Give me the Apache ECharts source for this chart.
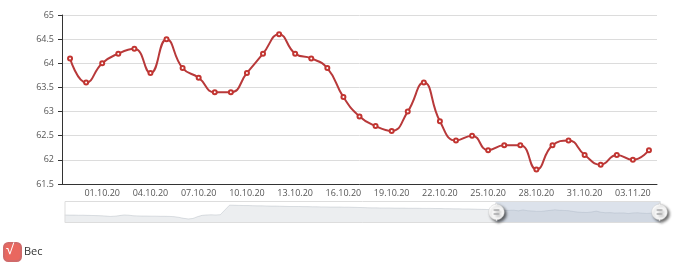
<!DOCTYPE html>
<html><head><meta charset="utf-8">
<style>html,body{margin:0;padding:0;background:#fff}#c{width:680px;height:265px}</style>
<script src="https://cdn.jsdelivr.net/npm/echarts@6/dist/echarts.min.js"></script>
</head><body><div id="c"></div>
<script>
// Daily categories: 27.06.20 .. 04.11.20 (131 days)
const firstDay = new Date(2020, 5, 27);
const dayCount = 131;
const categories = [];
for (let i = 0; i < dayCount; i++) {
  const d = new Date(firstDay.getFullYear(), firstDay.getMonth(), firstDay.getDate() + i);
  const dd = String(d.getDate()).padStart(2, '0');
  const mm = String(d.getMonth() + 1).padStart(2, '0');
  const yy = String(d.getFullYear()).slice(2);
  categories.push(dd + '.' + mm + '.' + yy);
}

// Values outside the zoom window (read from the slider's data shadow)
const earlyWeights = [
  60.8, 60.7, 60.7, 60.6, 60.6, 60.5, 60.4, 60.3, 60.2, 60.0,
  59.7, 59.9, 60.3, 60.8, 60.6, 60.2, 60.1, 60.0, 60.0, 59.9,
  59.9, 59.8, 59.8, 59.7, 59.5, 59.0, 58.3, 57.9, 58.2, 59.5,
  60.5, 60.8, 60.9, 60.8, 61.0, 64.5, 68.0, 67.9, 67.8, 67.7,
  67.7, 67.6, 67.5, 67.5, 67.4, 67.3, 67.3, 67.2, 67.1, 67.0,
  67.0, 67.0, 66.9, 66.9, 66.8, 66.8, 66.7, 66.7, 66.6, 66.6,
  66.6, 66.5, 66.5, 66.4, 66.3, 66.2, 66.1, 66.0, 66.0, 65.9,
  65.9, 65.9, 65.8, 65.8, 65.8, 65.7, 65.7, 65.7, 65.6, 65.6,
  65.6, 65.5, 65.5, 65.4, 65.4, 65.3, 65.3, 65.2, 65.2, 65.1,
  65.0, 64.9, 64.8, 64.6
];
// Values in the visible window: 29.09.20 .. 04.11.20
const shownWeights = [
  64.1, 63.6, 64.0, 64.2, 64.3, 63.8, 64.5, 63.9, 63.7, 63.4,
  63.4, 63.8, 64.2, 64.6, 64.2, 64.1, 63.9, 63.3, 62.9, 62.7,
  62.6, 63.0, 63.6, 62.8, 62.4, 62.5, 62.2, 62.3, 62.3, 61.8,
  62.3, 62.4, 62.1, 61.9, 62.1, 62.0, 62.2
];
const weights = earlyWeights.concat(shownWeights);
const seriesName = 'Вес';
const yMin = 61.5, yMax = 65, yStep = 0.5;

const labelFont = '"Open Sans", sans-serif';
const chart = echarts.init(document.getElementById('c'));
chart.setOption({
  animation: false,
  grid: { left: 62, right: 23, top: 15, bottom: 81 },
  legend: {
    data: [{ name: seriesName, itemStyle: { color: '#e9675f' } }],
    left: 3, top: 242, padding: 0,
    icon: 'roundRect', itemWidth: 17, itemHeight: 18, itemGap: 10,
    textStyle: { fontSize: 11, color: '#333', fontFamily: labelFont, padding: [0, 0, 0, -2] }
  },
  graphic: [{
    type: 'text', z: 100, left: 6, top: 243,
    style: { text: '√', fill: '#fff', fontSize: 14, fontFamily: '"Open Sans", "DejaVu Sans"' }
  }],
  xAxis: {
    type: 'category',
    data: categories,
    boundaryGap: true,
    axisLine: { lineStyle: { color: '#333' } },
    axisTick: { length: 4, interval: 2 },
    axisLabel: { interval: 2, margin: 5, fontSize: 9, color: '#555', fontFamily: labelFont }
  },
  yAxis: {
    type: 'value',
    min: yMin, max: yMax, interval: yStep,
    axisLine: { show: true, lineStyle: { color: '#333' } },
    axisTick: { show: true, length: 4 },
    axisLabel: { margin: 8, fontSize: 9, color: '#555', fontFamily: labelFont },
    splitLine: { lineStyle: { color: '#dcdcdc' } }
  },
  dataZoom: [{
    type: 'slider',
    startValue: 94, endValue: 130,
    left: 62, right: 22, top: 201, height: 22,
    showDetail: false, brushSelect: false, moveHandleSize: 0,
    borderColor: '#ddd',
    fillerColor: 'rgba(167,183,204,0.4)',
    backgroundColor: 'rgba(47,69,84,0)',
    dataBackground: {
      lineStyle: { color: '#2f4554', width: 0.5, opacity: 0.3 },
      areaStyle: { color: 'rgba(47,69,84,0.3)', opacity: 0.3 }
    },
    selectedDataBackground: {
      lineStyle: { color: '#2f4554', width: 0.5, opacity: 0.3 },
      areaStyle: { color: 'rgba(47,69,84,0.3)', opacity: 0.3 }
    },
    handleIcon: 'path://M10.7,11.9v-1.3H9.3v1.3c-4.9,0.3-8.8,4.4-8.8,9.4c0,5,3.9,9.1,8.8,9.4v1.3h1.3v-1.3c4.9-0.3,8.8-4.4,8.8-9.4C19.5,16.3,15.6,12.2,10.7,11.9z M13.3,24.4H6.7V23h6.6V24.4z M13.3,19.6H6.7v-1.4h6.6V19.6z',
    handleSize: '80%',
    handleStyle: {
      color: '#fff', borderColor: '#ccc', borderWidth: 0.5,
      shadowBlur: 3, shadowColor: 'rgba(0,0,0,0.6)', shadowOffsetX: 2, shadowOffsetY: 2
    }
  }],
  series: [{
    name: seriesName,
    type: 'line',
    data: weights,
    smooth: true,
    symbol: 'emptyCircle',
    symbolSize: 4,
    showAllSymbol: true,
    itemStyle: { color: '#c23531', borderColor: '#d06a6a', borderWidth: 0.8 },
    lineStyle: { width: 2, color: '#b8393a' }
  }]
});
</script>
</body></html>
